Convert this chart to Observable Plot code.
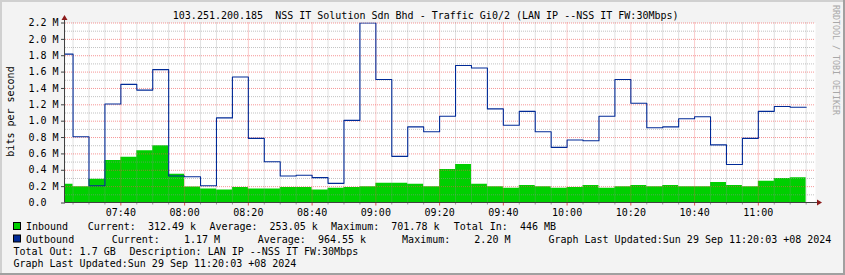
<!DOCTYPE html>
<html>
<head>
<meta charset="utf-8">
<script src="https://cdn.jsdelivr.net/npm/d3@7"></script>
<script src="https://cdn.jsdelivr.net/npm/@observablehq/plot@0.6"></script>
<style>
html,body{margin:0;padding:0;background:#f3f3f3;}
#chart{width:845px;height:275px;}
#chart svg text{white-space:pre;}
</style>
</head>
<body>
<div id="chart"></div>
<script>
// ---------- data ----------
const startTime = new Date(2024, 8, 29, 7, 20); // first 5-minute sample start
const stepMinutes = 5;
// bits per second, in millions, one value per 5-minute interval (07:20 .. 11:15)
const inboundM = [0.23,0.20,0.29,0.52,0.56,0.64,0.70,0.35,0.195,0.17,0.16,0.19,0.17,0.17,0.19,0.19,0.16,0.18,0.19,0.20,0.24,0.24,0.23,0.20,0.41,0.47,0.23,0.20,0.18,0.215,0.20,0.18,0.19,0.215,0.18,0.20,0.215,0.20,0.215,0.20,0.20,0.25,0.215,0.20,0.265,0.30,0.31];
const outboundM = [1.82,0.81,0.21,1.21,1.45,1.38,1.63,0.33,0.32,0.21,1.04,1.54,0.79,0.505,0.33,0.34,0.31,0.24,1.01,2.20,1.51,0.57,0.93,0.87,1.06,1.68,1.65,1.15,0.95,1.12,0.87,0.68,0.77,0.76,1.06,1.51,1.22,0.92,0.93,1.03,1.055,0.71,0.47,0.79,1.12,1.18,1.17];
const yTicksM = [0,0.2,0.4,0.6,0.8,1.0,1.2,1.4,1.6,1.8,2.0,2.2];
const yTickLabels = ["0.0  ","0.2 M","0.4 M","0.6 M","0.8 M","1.0 M","1.2 M","1.4 M","1.6 M","1.8 M","2.0 M","2.2 M"];
const yMinorM = [0.1,0.3,0.5,0.7,0.9,1.1,1.3,1.5,1.7,1.9,2.1];
const xTickLabels = ["07:40","08:00","08:20","08:40","09:00","09:20","09:40","10:00","10:20","10:40","11:00"];
const titleText = "103.251.200.185  NSS IT Solution Sdn Bhd - Traffic Gi0/2 (LAN IP --NSS IT FW:30Mbps)";
const yAxisTitle = "bits per second";
const watermarkText = "RRDTOOL / TOBI OETIKER";
const seriesNames = ["Inbound","Outbound"];
const seriesColors = ["#00CF00","#002A97"];
const legendRow1 = ["Current:  312.49 k","Average:  253.05 k","Maximum:  701.78 k","Total In:  446 MB"];
const legendRow2 = ["Current:    1.17 M","Average:  964.55 k","Maximum:    2.20 M","Graph Last Updated:Sun 29 Sep 11:20:03 +08 2024"];
const legendRow3 = ["Total Out: 1.7 GB","Description: LAN IP --NSS IT FW:30Mbps"];
const legendRow4 = ["Graph Last Updated:Sun 29 Sep 11:20:03 +08 2024"];

// ---------- build table ----------
const rows = inboundM.map((v, i) => ({
  t: new Date(startTime.getTime() + i * stepMinutes * 60000),
  inb: v, out: outboundM[i]
}));
const n = inboundM.length;
rows.push({t: new Date(startTime.getTime() + n * stepMinutes * 60000), inb: inboundM[n - 1], out: outboundM[n - 1]});

const day = [2024, 8, 29];
const xMajor = xTickLabels.map(s => new Date(day[0], day[1], day[2], +s.slice(0, 2), +s.slice(3)));
const xDomain = [new Date(2024, 8, 29, 7, 22, 38), new Date(2024, 8, 29, 11, 17, 56)];
const xMinor = d3.timeMinute.every(5).range(xDomain[0], xDomain[1]).filter(d => d.getMinutes() % 20 !== 0);
const labelByTick = new Map(yTicksM.map((v, i) => [Math.round(v * 10), yTickLabels[i]]));

const W = 845, H = 275;
const plot = Plot.plot({
  width: W, height: H,
  marginLeft: 65, marginRight: 30, marginTop: 22.5, marginBottom: 72.5,
  style: {fontFamily: "'DejaVu Sans Mono', monospace", fontSize: "10px", background: "transparent", color: "black"},
  x: {type: "time", domain: xDomain, label: null},
  y: {domain: [0, 2.2], label: null},
  marks: [
    Plot.frame({fill: "#ffffff", stroke: "none"}),
    Plot.areaY(rows, {x: "t", y: "inb", curve: "step-after", fill: seriesColors[0], clip: true}),
    Plot.ruleY(yMinorM, {stroke: "#8F8F8F", strokeOpacity: 0.55, strokeDasharray: "1,1"}),
    Plot.ruleX(xMinor, {stroke: "#8F8F8F", strokeOpacity: 0.55, strokeDasharray: "1,1"}),
    Plot.ruleY(yTicksM.filter(v => v > 0), {stroke: "#F05050", strokeOpacity: 0.6, strokeDasharray: "1,1"}),
    Plot.ruleX(xMajor, {stroke: "#F05050", strokeOpacity: 0.6, strokeDasharray: "1,1"}),
    Plot.lineY(rows, {x: "t", y: "out", curve: "step-after", stroke: seriesColors[1], strokeWidth: 1.1, clip: true}),
    Plot.axisY({ticks: yTicksM, tickFormat: d => labelByTick.get(Math.round(d * 10)), tickSize: 4, tickPadding: 3, stroke: "#404040", label: null}),
    Plot.axisX({ticks: xMinor, tickFormat: () => "", tickSize: 2, stroke: "#999999", label: null}),
    Plot.axisX({ticks: xMajor, tickFormat: d3.timeFormat("%H:%M"), tickSize: 3, tickPadding: 2.5, stroke: "#E05050", label: null})
  ]
});
document.getElementById("chart").appendChild(plot);

// ---------- decorations ----------
const svg = d3.select(plot);
const xs = plot.scale("x"), ys = plot.scale("y");
const ax0 = xs.apply(xDomain[0]) - 0.5, ax1 = xs.apply(xDomain[1]);
const ay0 = ys.apply(0), ayTop = ys.apply(2.2);
const axisColor = "#404040", arrowColor = "#8B1A1A";

// borders (3D shading)
svg.append("rect").attr("x", 0).attr("y", 0).attr("width", W).attr("height", 2).attr("fill", "#D0D0D0");
svg.append("rect").attr("x", 0).attr("y", 0).attr("width", 2).attr("height", H).attr("fill", "#D0D0D0");
svg.append("rect").attr("x", W - 2).attr("y", 0).attr("width", 2).attr("height", H).attr("fill", "#A0A0A0");
svg.append("rect").attr("x", 0).attr("y", H - 2).attr("width", W).attr("height", 2).attr("fill", "#A0A0A0");

// axis lines + arrows
svg.append("line").attr("x1", ax0).attr("x2", ax0).attr("y1", ay0).attr("y2", ayTop - 3).attr("stroke", axisColor);
svg.append("line").attr("x1", ax0).attr("x2", ax1 + 2).attr("y1", ay0).attr("y2", ay0).attr("stroke", axisColor);
svg.append("path").attr("d", `M${ax0 - 3},${ayTop - 2.5}L${ax0 + 3},${ayTop - 2.5}L${ax0},${ayTop - 7.5}Z`).attr("fill", arrowColor);
svg.append("path").attr("d", `M${ax1 + 2},${ay0 - 3}L${ax1 + 2},${ay0 + 3}L${ax1 + 7},${ay0}Z`).attr("fill", arrowColor);

const addText = (x, y, s) => svg.append("text").attr("x", x).attr("y", y)
  .attr("text-anchor", "start").attr("fill", "black").text(s);

// title
addText(172.8, 18.5, titleText);
// y axis title
svg.append("text").attr("transform", "translate(14,111.5) rotate(-90)").attr("text-anchor", "middle").attr("fill", "black").text(yAxisTitle);
// watermark
svg.append("text").attr("transform", "translate(832.5,5) rotate(90)").attr("text-anchor", "start")
  .attr("font-size", "8.3px").attr("fill", "#A8A8A8").text(watermarkText);

// legend
const rowY = [230, 242.5, 254.5, 266.5];
[0, 1].forEach(i => {
  svg.append("rect").attr("x", 13.5).attr("y", rowY[i] - 7.5).attr("width", 7).attr("height", 7)
    .attr("fill", seriesColors[i]).attr("stroke", "black").attr("stroke-width", 1);
  addText(26, rowY[i], seriesNames[i]);
});
const row1X = [87.7, 209.4, 331.1, 453.7];
const row2X = [111.7, 257.7, 402.1, 548.4];
const row3X = [13.4, 129.4];
const row4X = [13.4];
[[legendRow1, row1X, rowY[0]], [legendRow2, row2X, rowY[1]], [legendRow3, row3X, rowY[2]], [legendRow4, row4X, rowY[3]]]
  .forEach(([texts, xsPos, yy]) => texts.forEach((s, i) => addText(xsPos[i], yy, s)));
</script>
</body>
</html>
